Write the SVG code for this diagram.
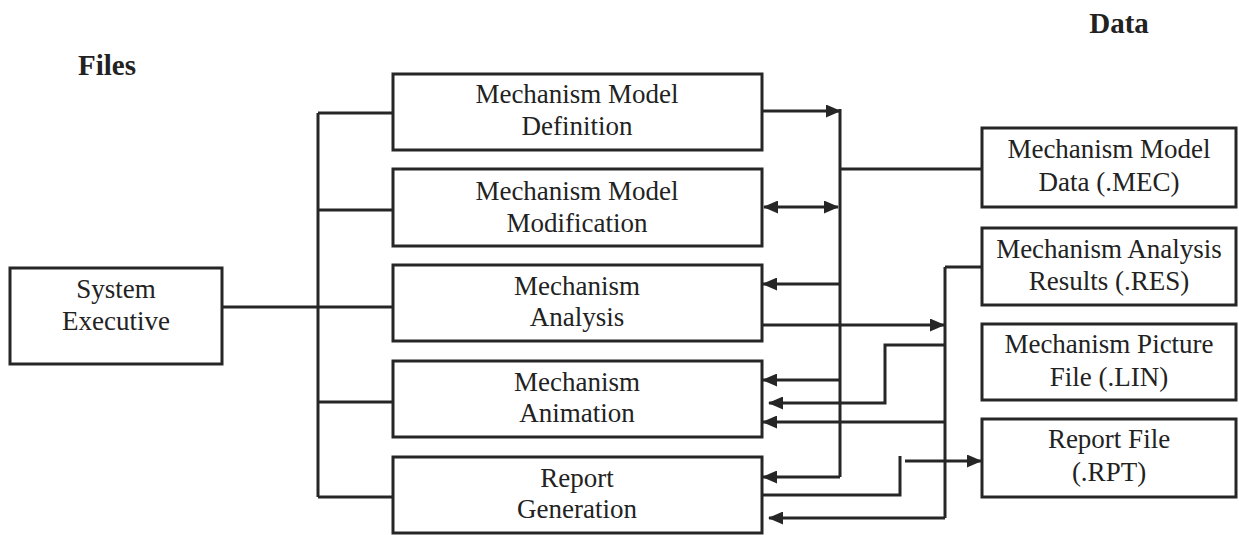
<svg xmlns="http://www.w3.org/2000/svg" width="1239" height="535" viewBox="0 0 1239 535">
<style>
.box{fill:#fff;stroke:#262626;stroke-width:3}
.t{font-family:"Liberation Serif","Times New Roman",serif;font-size:27px;fill:#222;text-anchor:middle}
.h{font-family:"Liberation Serif","Times New Roman",serif;font-size:29px;font-weight:bold;fill:#222;text-anchor:middle}
.c{fill:none;stroke:#262626;stroke-width:3}
.a{marker-end:url(#ah)}
.d{marker-start:url(#ah);marker-end:url(#ah)}
</style>
<defs>
<marker id="ah" markerUnits="userSpaceOnUse" markerWidth="15" markerHeight="13" refX="14" refY="6.5" orient="auto-start-reverse" viewBox="0 0 15 13">
<path d="M0,0 L15,6.5 L0,13 z" fill="#262626"/>
</marker>
</defs>
<rect width="1239" height="535" fill="#fff"/>
<g id="labels">
<text class="h" x="107" y="75">Files</text>
<text class="h" x="1119" y="33">Data</text>
</g>
<g id="connectors">
<path class="c" d="M222,307 H318"/>
<path class="c" d="M318,113 V497"/>
<path class="c" d="M318,113 H393 M318,210 H393 M318,307 H393 M318,402 H393 M318,497 H393"/>
<path class="c a" d="M762,111 H840"/>
<path class="c" d="M840,109 V477"/>
<path class="c" d="M840,169 H982"/>
<path class="c d" d="M764,207 H838"/>
<path class="c a" d="M840,284 H763"/>
<path class="c a" d="M762,325 H944"/>
<path class="c a" d="M840,380 H763"/>
<path class="c a" d="M945,345 H885 V403 H769"/>
<path class="c a" d="M945,422 H763"/>
<path class="c a" d="M840,477 H763"/>
<path class="c" d="M762,495 H900 V456"/>
<path class="c a" d="M905,461 H981"/>
<path class="c a" d="M945,518 H769"/>
<path class="c" d="M945,267 V518"/>
<path class="c" d="M945,267 H982"/>
</g>
<g id="system-executive">
<rect class="box" x="10" y="268" width="212" height="96"/>
<text class="t" x="116" y="298">System</text>
<text class="t" x="116" y="330">Executive</text>
</g>
<g id="model-definition">
<rect class="box" x="393" y="74" width="369" height="76"/>
<text class="t" x="577" y="103">Mechanism Model</text>
<text class="t" x="577" y="135">Definition</text>
</g>
<g id="model-modification">
<rect class="box" x="393" y="169" width="369" height="77"/>
<text class="t" x="577" y="200">Mechanism Model</text>
<text class="t" x="577" y="232">Modification</text>
</g>
<g id="analysis">
<rect class="box" x="393" y="265" width="369" height="76"/>
<text class="t" x="577" y="295">Mechanism</text>
<text class="t" x="577" y="326">Analysis</text>
</g>
<g id="animation">
<rect class="box" x="393" y="361" width="369" height="76"/>
<text class="t" x="577" y="391">Mechanism</text>
<text class="t" x="577" y="422">Animation</text>
</g>
<g id="report-generation">
<rect class="box" x="393" y="457" width="369" height="76"/>
<text class="t" x="577" y="487">Report</text>
<text class="t" x="577" y="518">Generation</text>
</g>
<g id="mec">
<rect class="box" x="982" y="128" width="254" height="79"/>
<text class="t" x="1109" y="158">Mechanism Model</text>
<text class="t" x="1109" y="191">Data (.MEC)</text>
</g>
<g id="res">
<rect class="box" x="982" y="228" width="254" height="77"/>
<text class="t" x="1109" y="258">Mechanism Analysis</text>
<text class="t" x="1109" y="290">Results (.RES)</text>
</g>
<g id="lin">
<rect class="box" x="982" y="324" width="254" height="76"/>
<text class="t" x="1109" y="353">Mechanism Picture</text>
<text class="t" x="1109" y="386">File (.LIN)</text>
</g>
<g id="rpt">
<rect class="box" x="982" y="419" width="254" height="78"/>
<text class="t" x="1109" y="448">Report File</text>
<text class="t" x="1109" y="481">(.RPT)</text>
</g>
</svg>
